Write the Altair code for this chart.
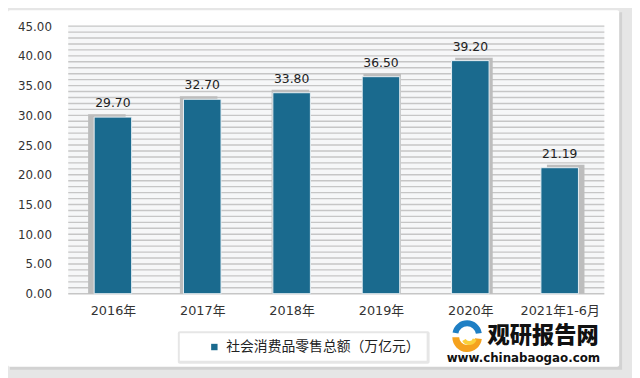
import json
import altair as alt
import pandas as pd

# ---- data ----
years = ["2016年", "2017年", "2018年", "2019年", "2020年", "2021年1-6月"]
values = [29.70, 32.70, 33.80, 36.50, 39.20, 21.19]
series_name = "社会消费品零售总额（万亿元）"
y_ticks = [0, 5, 10, 15, 20, 25, 30, 35, 40, 45]
grid_values = list(range(0, 46))

df = pd.DataFrame({"year": years, "value": values,
                   "idx": list(range(1, len(years) + 1)), "series": series_name})
grid_df = pd.DataFrame({"g": grid_values})
one = pd.DataFrame({"a": [0]})

FONT = "DejaVu Sans, Noto Sans CJK SC"
BAR = "#1a6a8e"
HALF = 0.21

xscale = alt.Scale(domain=[0.5, len(years) + 0.5], nice=False, zero=False)
yscale = alt.Scale(domain=[0, 45], nice=False)
label_expr = json.dumps(years, ensure_ascii=False) + "[round(datum.value) - 1]"
xaxis = alt.Axis(values=list(range(1, len(years) + 1)), labelExpr=label_expr, title=None,
                 ticks=False, domain=False, grid=False, labelPadding=11,
                 labelFont=FONT, labelFontSize=13, labelColor="#333333", zindex=1)
yaxis = alt.Axis(values=y_ticks, format=".2f", title=None, ticks=False, domain=False,
                 grid=False, labelPadding=17, labelFont=FONT, labelFontSize=12,
                 labelColor="#333333", zindex=1)

card_shadow = alt.Chart(one).mark_rect(fill="#d2d2d2").encode(
    x=alt.value(-59), x2=alt.value(561), y=alt.value(-14), y2=alt.value(348))
card = alt.Chart(one).mark_rect(fill="#ffffff", cornerRadius=2).encode(
    x=alt.value(-61), x2=alt.value(558), y=alt.value(-16), y2=alt.value(345))
plot_bg = alt.Chart(one).mark_rect(fill="#f6f7f8").encode(
    x=alt.value(0), x2=alt.value(543), y=alt.value(0), y2=alt.value(271))

grid = alt.Chart(grid_df).mark_rule(color="#c6c6c6", strokeWidth=1.4).encode(
    y=alt.Y("g:Q", scale=yscale, axis=yaxis))

shadow = alt.Chart(df).transform_calculate(
    sx1=f"datum.idx - {HALF} + (datum.idx - 3.5) * 0.027",
    sx2=f"datum.idx + {HALF} + (datum.idx - 3.5) * 0.027",
    sy="datum.value + 0.5",
).mark_rect(fill="#bdbdbd").encode(
    x=alt.X("sx1:Q", scale=xscale, axis=xaxis), x2="sx2:Q",
    y=alt.Y("sy:Q", scale=yscale, axis=yaxis), y2=alt.datum(0))

bars = alt.Chart(df).transform_calculate(
    x1=f"datum.idx - {HALF}", x2=f"datum.idx + {HALF}",
).mark_rect(stroke="#e9f0f4", strokeWidth=1).encode(
    x=alt.X("x1:Q", scale=xscale, axis=xaxis), x2="x2:Q",
    y=alt.Y("value:Q", scale=yscale, axis=yaxis), y2=alt.datum(0),
    color=alt.Color("series:N", scale=alt.Scale(range=[BAR]),
                    legend=alt.Legend(orient="none", legendX=141, legendY=318, title=None,
                                      symbolType="square", symbolSize=42,
                                      symbolStrokeWidth=0, labelLimit=400,
                                      labelFont="Noto Sans CJK SC", labelFontSize=14,
                                      labelColor="#222222", padding=0, labelOffset=5,
                                      zindex=1)))

labels = alt.Chart(df).mark_text(baseline="bottom", dy=-7, font=FONT, fontSize=12.5,
                                 color="#222222").encode(
    x=alt.X("idx:Q", scale=xscale, axis=xaxis),
    y=alt.Y("value:Q", scale=yscale, axis=yaxis),
    text=alt.Text("value:Q", format=".2f"))

legend_shadow = alt.Chart(one).mark_rect(fill="#e6e6e6", cornerRadius=2).encode(
    x=alt.value(111), x2=alt.value(366), y=alt.value(309), y2=alt.value(342))
legend_box = alt.Chart(one).mark_rect(fill="#ffffff").encode(
    x=alt.value(113), x2=alt.value(363), y=alt.value(311), y2=alt.value(339))

logo_blue = alt.Chart(one).mark_arc(color="#1f7fc4").encode(
    x=alt.value(404), y=alt.value(313), theta=alt.value(4.9), theta2=alt.value(7.7),
    radius=alt.value(15), radius2=alt.value(9))
logo_orange = alt.Chart(one).mark_arc(color="#f5a21e").encode(
    x=alt.value(404), y=alt.value(315), theta=alt.value(1.7), theta2=alt.value(4.7),
    radius=alt.value(15), radius2=alt.value(8))
logo_yellow = alt.Chart(one).mark_arc(color="#fbd03a").encode(
    x=alt.value(406), y=alt.value(315), theta=alt.value(1.9), theta2=alt.value(4.2),
    radius=alt.value(8), radius2=alt.value(4))
wm_cn = alt.Chart(one).mark_text(text="观研报告网", font="Noto Sans CJK SC", fontWeight=900,
                                 fontSize=22.5, color="#111111").encode(
    x=alt.value(481), y=alt.value(314))
wm_url = alt.Chart(one).mark_text(text="www.chinabaogao.com", font="DejaVu Sans",
                                  fontWeight="bold", fontSize=12, color="#111111").encode(
    x=alt.value(461), y=alt.value(336))

chart = alt.layer(
    card_shadow, card, plot_bg, grid, shadow, bars, labels,
    legend_shadow, legend_box, logo_blue, logo_orange, logo_yellow, wm_cn, wm_url,
).properties(
    width=543, height=271, background="#e6e6e6",
    autosize=alt.AutoSizeParams(type="none"),
    padding={"left": 61, "top": 16, "right": 28, "bottom": 83},
).configure_view(strokeWidth=0)

chart.save("out.html", embed_options={"renderer": "svg", "actions": False})
